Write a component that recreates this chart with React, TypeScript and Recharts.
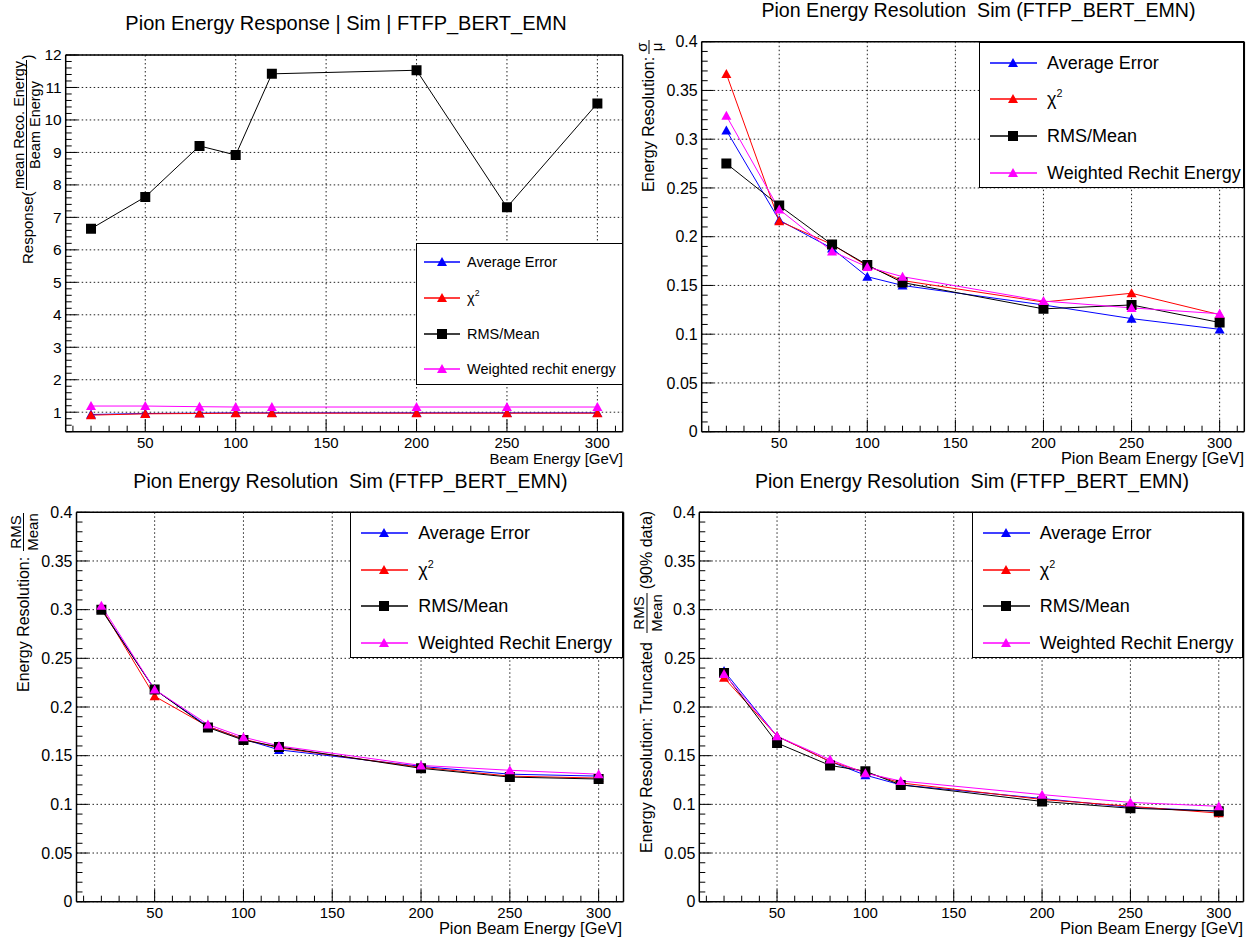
import React from 'react';
import { LineChart, Line, XAxis, YAxis, CartesianGrid, Legend } from 'recharts';

const FONT = '"Liberation Sans", Arial, Helvetica, sans-serif';

const energies = [20, 50, 80, 100, 120, 200, 250, 300];

// top left: response
const respAvgError = [0.93, 0.96, 0.97, 0.98, 0.98, 0.98, 0.98, 0.98];
const respChi2 = [0.91, 0.95, 0.96, 0.97, 0.97, 0.97, 0.97, 0.97];
const respRmsMean = [6.65, 7.63, 9.2, 8.92, 11.42, 11.53, 7.31, 10.51];
const respWeighted = [1.19, 1.19, 1.17, 1.16, 1.16, 1.16, 1.16, 1.16];

// top right: sigma / mu
const sigAvgError = [0.309, 0.217, 0.188, 0.159, 0.15, 0.13, 0.116, 0.105];
const sigChi2 = [0.367, 0.216, 0.192, 0.17, 0.155, 0.133, 0.142, 0.12];
const sigRmsMean = [0.275, 0.232, 0.192, 0.171, 0.153, 0.126, 0.13, 0.112];
const sigWeighted = [0.324, 0.228, 0.185, 0.169, 0.159, 0.134, 0.127, 0.121];

// bottom left: RMS / Mean
const rmsAvgError = [0.301, 0.218, 0.18, 0.167, 0.156, 0.139, 0.131, 0.129];
const rmsChi2 = [0.302, 0.211, 0.18, 0.167, 0.158, 0.138, 0.129, 0.127];
const rmsRmsMean = [0.3, 0.218, 0.179, 0.166, 0.159, 0.137, 0.128, 0.126];
const rmsWeighted = [0.304, 0.218, 0.182, 0.169, 0.16, 0.14, 0.135, 0.131];

// bottom right: truncated RMS / Mean (90% data)
const truncAvgError = [0.237, 0.17, 0.144, 0.13, 0.12, 0.106, 0.097, 0.093];
const truncChi2 = [0.23, 0.17, 0.144, 0.133, 0.122, 0.105, 0.098, 0.091];
const truncRmsMean = [0.235, 0.163, 0.14, 0.134, 0.12, 0.103, 0.096, 0.093];
const truncWeighted = [0.234, 0.17, 0.146, 0.132, 0.124, 0.11, 0.102, 0.098];

const xDomain = [6, 314];
const xMajorTicks = [50, 100, 150, 200, 250, 300];
const respYDomain = [0.4, 12];
const respYTicks = [1, 2, 3, 4, 5, 6, 7, 8, 9, 10, 11, 12];
const resYDomain = [0, 0.4];
const resYTicks = [0, 0.05, 0.1, 0.15, 0.2, 0.25, 0.3, 0.35, 0.4];

const seriesKeys = ['avg', 'chi2', 'rms', 'weighted'];
const seriesColors = ['#0000ff', '#ff0000', '#000000', '#ff00ff'];
const seriesMarkers = ['tri', 'tri', 'sq', 'tri'];

const steps = (from: number, to: number, step: number) => {
  const out: number[] = [];
  const n = Math.round((to - from) / step);
  for (let i = 0; i <= n; i++) out.push(Math.round((from + i * step) * 1000) / 1000);
  return out;
};

const xMinorTicks = steps(10, 310, 10);
const isIn = (list: number[], v: number) => list.some((t) => Math.abs(t - v) < 1e-9);

function markerPath(kind: string, cx: number, cy: number, s: number) {
  if (kind === 'sq') return `M${cx - s / 2},${cy - s / 2}h${s}v${s}h${-s}Z`;
  const h = s * 0.9;
  return `M${cx},${cy - h * 0.55}L${cx + s / 2},${cy + h * 0.45}L${cx - s / 2},${cy + h * 0.45}Z`;
}

const makeDot = (kind: string, color: string, size: number) => (props: any) => {
  const { cx, cy, index } = props;
  if (cx == null || cy == null) return <g key={`e-${index}`} />;
  return <path key={`m-${index}`} d={markerPath(kind, cx, cy, size)} fill={color} />;
};

const makeXTick = (majors: number[]) => (props: any) => {
  const { x, y, payload } = props;
  const major = isIn(majors, payload.value);
  return (
    <g>
      <line x1={x} x2={x} y1={y} y2={y - (major ? 12 : 6)} stroke="#000" strokeWidth={1} />
      {major && (
        <text x={x} y={y + 16} textAnchor="middle" fontSize={15} fill="#000" fontFamily={FONT}>
          {payload.value}
        </text>
      )}
    </g>
  );
};

const makeYTick = (majors: number[], fontSize: number) => (props: any) => {
  const { x, y, payload } = props;
  const major = isIn(majors, payload.value);
  return (
    <g>
      <line x1={x} x2={x + (major ? 12 : 6)} y1={y} y2={y} stroke="#000" strokeWidth={1} />
      {major && (
        <text x={x - 4} y={y} dy="0.35em" textAnchor="end" fontSize={fontSize} fill="#000" fontFamily={FONT}>
          {String(payload.value)}
        </text>
      )}
    </g>
  );
};

const VText = ({ x, y, anchor = 'middle', size = 16, children }: any) => (
  <text
    x={x}
    y={y}
    transform={`rotate(-90 ${x} ${y})`}
    textAnchor={anchor}
    dominantBaseline="central"
    fontSize={size}
    fill="#000"
    fontFamily={FONT}
  >
    {children}
  </text>
);

const yTitles: Record<string, React.ReactNode> = {
  response: (
    <g>
      <VText x={27} y={264} anchor="start" size={15}>Response(</VText>
      <VText x={19} y={125} size={14.5}>mean Reco. Energy</VText>
      <line x1={26.5} x2={26.5} y1={60} y2={190} stroke="#000" strokeWidth={1} />
      <VText x={34.5} y={125} size={14.5}>Beam Energy</VText>
      <VText x={27} y={57} size={15}>)</VText>
    </g>
  ),
  sigma: (
    <g>
      <VText x={20} y={192} anchor="start" size={16}>Energy Resolution:</VText>
      <VText x={13.5} y={47} size={15}>σ</VText>
      <line x1={21} x2={21} y1={40} y2={54} stroke="#000" strokeWidth={1} />
      <VText x={28} y={47} size={15}>μ</VText>
    </g>
  ),
  rms: (
    <g>
      <VText x={23.5} y={221} anchor="start" size={16}>Energy Resolution:</VText>
      <VText x={15} y={61} size={15}>RMS</VText>
      <line x1={23.5} x2={23.5} y1={42} y2={80} stroke="#000" strokeWidth={1} />
      <VText x={32} y={61} size={15}>Mean</VText>
    </g>
  ),
  trunc: (
    <g>
      <VText x={18} y={382} anchor="start" size={16}>Energy Resolution: Truncated</VText>
      <VText x={10.5} y={142} size={15}>RMS</VText>
      <line x1={19} x2={19} y1={122} y2={162} stroke="#000" strokeWidth={1} />
      <VText x={28} y={142} size={15}>Mean</VText>
      <VText x={18} y={79} size={16}>(90% data)</VText>
    </g>
  ),
};

const resLegend = { lineFrom: 11, lineTo: 58, mark: 34, text: 68, rows: [20, 56.5, 93, 130], font: 18 };

const panels = [
  {
    id: 'response', left: 0, top: 0, width: 628,
    frame: { left: 65.7, right: 622.7, top: 55, bottom: 431.7 },
    yDomain: respYDomain, yTicks: respYTicks, yMinor: steps(0.4, 12, 0.2), yFont: 15.5,
    series: [respAvgError, respChi2, respRmsMean, respWeighted],
    labels: ['Average Error', 'χ2', 'RMS/Mean', 'Weighted rechit energy'],
    legend: { left: 416, top: 243, width: 207, height: 142, lineFrom: 8, lineTo: 44, mark: 26, text: 51, rows: [18, 54, 90, 125], font: 14.5 },
    title: 'Pion Energy Response | Sim | FTFP_BERT_EMN', titleX: 346, titleY: 23, titleSize: 20,
    xTitle: 'Beam Energy [GeV]', xTitleX: 623, xTitleY: 458, xTitleSize: 15,
    markSize: 10,
  },
  {
    id: 'sigma', left: 628, top: 0, width: 627,
    frame: { left: 73.7, right: 616.3, top: 41.7, bottom: 431.7 },
    yDomain: resYDomain, yTicks: resYTicks, yMinor: steps(0, 0.4, 0.01), yFont: 16,
    series: [sigAvgError, sigChi2, sigRmsMean, sigWeighted],
    labels: ['Average Error', 'χ2', 'RMS/Mean', 'Weighted Rechit Energy'],
    legend: { left: 351, top: 41.7, width: 265.3, height: 146, ...resLegend },
    title: 'Pion Energy Resolution  Sim (FTFP_BERT_EMN)', titleX: 350.5, titleY: 10, titleSize: 19.6,
    xTitle: 'Pion Beam Energy [GeV]', xTitleX: 616, xTitleY: 458, xTitleSize: 16.4,
    markSize: 10,
  },
  {
    id: 'rms', left: 0, top: 471, width: 628,
    frame: { left: 76.5, right: 623.5, top: 41.3, bottom: 430.7 },
    yDomain: resYDomain, yTicks: resYTicks, yMinor: steps(0, 0.4, 0.01), yFont: 16,
    series: [rmsAvgError, rmsChi2, rmsRmsMean, rmsWeighted],
    labels: ['Average Error', 'χ2', 'RMS/Mean', 'Weighted Rechit Energy'],
    legend: { left: 350.2, top: 41.3, width: 273.3, height: 146, ...resLegend },
    title: 'Pion Energy Resolution  Sim (FTFP_BERT_EMN)', titleX: 350.4, titleY: 9.7, titleSize: 19.6,
    xTitle: 'Pion Beam Energy [GeV]', xTitleX: 622, xTitleY: 457, xTitleSize: 16.4,
    markSize: 10,
  },
  {
    id: 'trunc', left: 628, top: 471, width: 627,
    frame: { left: 71.3, right: 615.5, top: 41.3, bottom: 430.7 },
    yDomain: resYDomain, yTicks: resYTicks, yMinor: steps(0, 0.4, 0.01), yFont: 16,
    series: [truncAvgError, truncChi2, truncRmsMean, truncWeighted],
    labels: ['Average Error', 'χ2', 'RMS/Mean', 'Weighted Rechit Energy'],
    legend: { left: 343.7, top: 41.3, width: 271.8, height: 146, ...resLegend },
    title: 'Pion Energy Resolution  Sim (FTFP_BERT_EMN)', titleX: 344, titleY: 9.7, titleSize: 19.6,
    xTitle: 'Pion Beam Energy [GeV]', xTitleX: 615, xTitleY: 457, xTitleSize: 16.4,
    markSize: 10,
  },
];

function LegendBox({ p }: any) {
  const lg = p.legend;
  return (
    <div
      style={{
        position: 'relative', width: lg.width, height: lg.height, border: '1px solid #000',
        boxSizing: 'border-box', background: '#fff', fontFamily: FONT, color: '#000',
      }}
    >
      {seriesKeys.map((k, i) => (
        <div key={k} style={{ position: 'absolute', left: -1, top: lg.rows[i] - 11, height: 22, width: lg.width }}>
          <svg width={lg.lineTo + 4} height={22} style={{ position: 'absolute', left: 0, top: 0 }}>
            <line x1={lg.lineFrom} x2={lg.lineTo} y1={11} y2={11} stroke={seriesColors[i]} strokeWidth={1.5} />
            <path d={markerPath(seriesMarkers[i], lg.mark, 11, p.markSize)} fill={seriesColors[i]} />
          </svg>
          <span
            style={{
              position: 'absolute', left: lg.text, top: 0, lineHeight: '22px', fontSize: lg.font, whiteSpace: 'nowrap',
            }}
          >
            {p.labels[i] === 'χ2' ? (
              <span>
                χ<span style={{ fontSize: '0.6em', position: 'relative', top: '-0.75em' }}>2</span>
              </span>
            ) : (
              p.labels[i]
            )}
          </span>
        </div>
      ))}
    </div>
  );
}

function Panel({ p }: any) {
  const data = energies.map((e, i) => ({
    energy: e,
    avg: p.series[0][i],
    chi2: p.series[1][i],
    rms: p.series[2][i],
    weighted: p.series[3][i],
  }));
  const height = 471;
  const margin = {
    left: p.frame.left - 60,
    right: p.width - p.frame.right - 1,
    top: p.frame.top - 1,
    bottom: height - p.frame.bottom - 30,
  };
  const frameLine = { stroke: '#000', strokeWidth: 1.5 };
  return (
    <div style={{ position: 'absolute', left: p.left, top: p.top }}>
      <LineChart width={p.width} height={height} data={data} margin={margin} style={{ fontFamily: FONT }}>
        <CartesianGrid
          stroke="#222"
          strokeDasharray="1.5 2.5"
          strokeWidth={1}
          verticalValues={xMajorTicks}
          horizontalValues={p.yTicks}
        />
        <XAxis
          dataKey="energy"
          type="number"
          domain={xDomain}
          allowDataOverflow
          ticks={xMinorTicks}
          interval={0}
          height={30}
          tickSize={0}
          tickMargin={0}
          tickLine={false}
          axisLine={frameLine}
          tick={makeXTick(xMajorTicks)}
          label={{
            content: () => (
              <text
                x={p.xTitleX}
                y={p.xTitleY}
                textAnchor="end"
                dominantBaseline="central"
                fontSize={p.xTitleSize}
                fill="#000"
                fontFamily={FONT}
              >
                {p.xTitle}
              </text>
            ),
          }}
        />
        <XAxis
          xAxisId="top"
          orientation="top"
          type="number"
          domain={xDomain}
          allowDataOverflow
          ticks={xMajorTicks}
          height={1}
          tick={false}
          tickLine={false}
          axisLine={frameLine}
          label={{
            content: () => (
              <text
                x={p.titleX}
                y={p.titleY}
                textAnchor="middle"
                dominantBaseline="central"
                fontSize={p.titleSize}
                fill="#000"
                fontFamily={FONT}
                style={{ whiteSpace: 'pre' }}
              >
                {p.title}
              </text>
            ),
          }}
        />
        <YAxis
          type="number"
          domain={p.yDomain}
          allowDataOverflow
          ticks={p.yMinor}
          interval={0}
          width={60}
          tickSize={0}
          tickMargin={0}
          tickLine={false}
          axisLine={frameLine}
          tick={makeYTick(p.yTicks, p.yFont)}
          label={{ content: () => yTitles[p.id] }}
        />
        <YAxis
          yAxisId="right"
          orientation="right"
          type="number"
          domain={p.yDomain}
          allowDataOverflow
          ticks={p.yTicks}
          width={1}
          tick={false}
          tickLine={false}
          axisLine={frameLine}
        />
        <Legend
          layout="vertical"
          align="center"
          verticalAlign="middle"
          wrapperStyle={{ left: p.legend.left, top: p.legend.top, width: p.legend.width, height: p.legend.height }}
          content={() => <LegendBox p={p} />}
        />
        {seriesKeys.map((k, i) => (
          <Line
            key={k}
            type="linear"
            dataKey={k}
            stroke={seriesColors[i]}
            strokeWidth={1}
            dot={makeDot(seriesMarkers[i], seriesColors[i], p.markSize)}
            activeDot={false}
            isAnimationActive={false}
          />
        ))}
      </LineChart>
    </div>
  );
}

export default function App() {
  return (
    <div
      style={{
        position: 'absolute', left: 0, top: 0, width: 1255, height: 942, background: '#fff',
        fontFamily: FONT, overflow: 'hidden',
      }}
    >
      {panels.map((p) => (
        <Panel key={p.id} p={p} />
      ))}
    </div>
  );
}
